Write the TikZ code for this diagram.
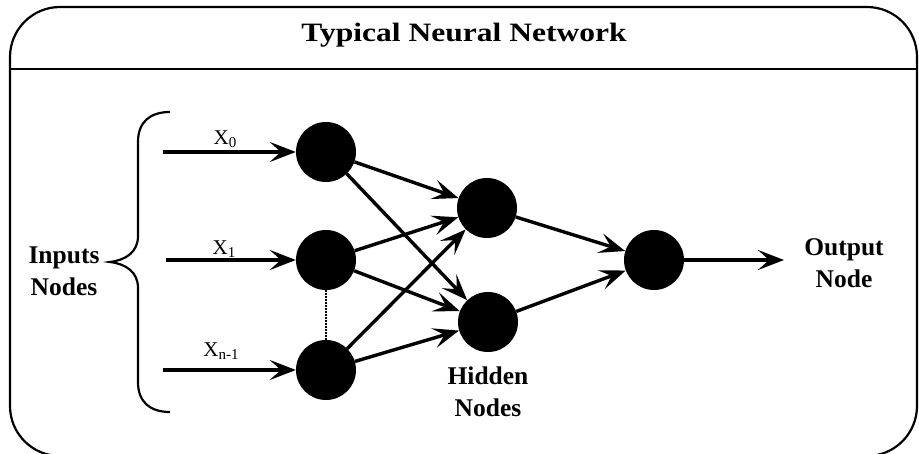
\documentclass[tikz,border=0pt]{standalone}
\usepackage{fontspec}
\setmainfont{Liberation Serif}
\usetikzlibrary{arrows.meta}
\newcommand{\xsub}[2]{#1\raisebox{-3pt}{\fontsize{15}{15}\selectfont #2}}
\begin{document}
\begin{tikzpicture}[x=1pt,y=-1pt,
  neuron/.style={circle,fill=black,minimum size=60pt,inner sep=0pt},
  link/.style={line width=3.4pt,-{Stealth[length=26pt,width=20pt,inset=11pt]}},
  caption/.style={font=\fontsize{25.5}{32}\selectfont\bfseries,align=center,inner sep=0pt},
  heading/.style={font=\fontsize{26.5}{30}\selectfont\bfseries,inner sep=0pt,anchor=base},
  inlabel/.style={font=\fontsize{21}{21}\selectfont,inner sep=0pt,anchor=base},
  frame/.style={line width=2.2pt}
]
\useasboundingbox (0,0) rectangle (919,454);

% outer rounded frame and title bar
\draw[frame,rounded corners=50pt] (10,7) rectangle (917,456);
\draw[frame] (10,69) -- (917,69);
\node[heading] (title) at (464,42) {\scalebox{1.19}[1]{Typical Neural Network}};

% neurons
\node[neuron] (i0) at (326,152) {};
\node[neuron] (i1) at (326,260) {};
\node[neuron] (i2) at (326,370) {};
\node[neuron] (h0) at (487,208) {};
\node[neuron] (h1) at (488,322) {};
\node[neuron] (out) at (654,260) {};

% input lines
\coordinate (s0) at (163,152);
\coordinate (s1) at (166,260);
\coordinate (s2) at (163,370);
\coordinate (e) at (784,260);
\draw[link] (s0) -- (i0);
\draw[link] (s1) -- (i1);
\draw[link] (s2) -- (i2);
\node[inlabel] (x0) at (225,145) {\xsub{X}{0}};
\node[inlabel] (x1) at (224,255) {\xsub{X}{1}};
\node[inlabel] (x2) at (221,357) {\xsub{X}{n-1}};

% elided neurons between x1 and x(n-1)
\draw[line width=1.6pt,dash pattern=on 1.6pt off 1.4pt] (i1.south) -- (i2.north);

% weights
\foreach \a in {i0,i1,i2}
  \foreach \b in {h0,h1}
    \draw[link] (\a) -- (\b);
\draw[link] (h0) -- (out);
\draw[link] (h1) -- (out);
\draw[link] (out) -- (e);

% brace grouping the inputs
\draw[frame] (170,112) .. controls (150,112) and (138,122) .. (138,142)
  -- (138,236) .. controls (138,252) and (126,260) .. (110,262)
  .. controls (126,264) and (138,272) .. (138,288)
  -- (138,382) .. controls (138,402) and (150,412) .. (170,412);

% captions
\node[caption] (inputs) at (64,271) {Inputs\\Nodes};
\node[caption] (hidden) at (488,392) {Hidden\\Nodes};
\node[caption] (output) at (844,263) {Output\\Node};
\end{tikzpicture}
\end{document}
